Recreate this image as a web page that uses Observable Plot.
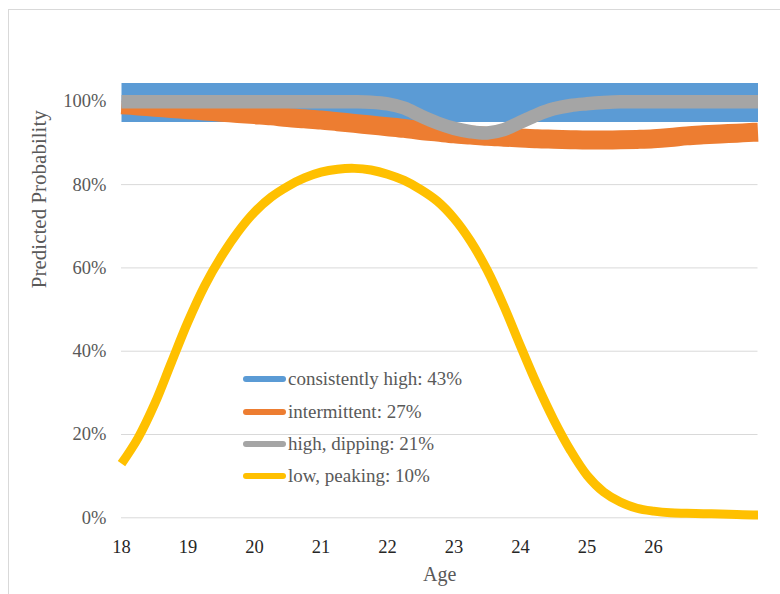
<!DOCTYPE html>
<html>
<head>
<meta charset="utf-8">
<script src="https://cdn.jsdelivr.net/npm/d3@7"></script>
<script src="https://cdn.jsdelivr.net/npm/@observablehq/plot@0.6"></script>
<style>
  html, body { margin: 0; padding: 0; background: #fff; overflow: hidden; }
  #wrap { position: relative; width: 780px; height: 594px; }
  #border { position: absolute; left: 8px; top: 9px; width: 900px; height: 700px; border: 1.5px solid #d9d9d9; box-sizing: border-box; }
  #chart { position: absolute; left: 0; top: 0; }
  #chart svg, #chart svg text { font-family: "Liberation Serif", Tinos, "Times New Roman", Times, serif !important; }
  #legend { position: absolute; left: 243px; top: 363px; font-family: "Liberation Serif", Tinos, "Times New Roman", Times, serif; font-size: 19px; color: #595959; }
  .row { height: 32.4px; display: flex; align-items: center; white-space: nowrap; }
  .sw { width: 43px; height: 6px; border-radius: 3px; margin-right: 2px; }
</style>
</head>
<body>
<div id="wrap">
  <div id="border"></div>
  <div id="chart"></div>
  <div id="legend"></div>
</div>
<script>
const ages = [18, 18.25, 18.5, 18.75, 19, 19.25, 19.5, 19.75, 20, 20.25, 20.5, 20.75, 21, 21.25, 21.5, 21.75, 22, 22.25, 22.5, 22.75, 23, 23.25, 23.5, 23.75, 24, 24.25, 24.5, 24.75, 25, 25.25, 25.5, 25.75, 26, 26.25, 26.5, 26.75, 27, 27.25, 27.5, 27.57];

const seriesNames = ["consistently high: 43%", "intermittent: 27%", "high, dipping: 21%", "low, peaking: 10%"];
const seriesColors = ["#5b9bd5", "#ed7d31", "#a5a5a5", "#ffc000"];

const consistentlyHigh = [99.7, 99.7, 99.7, 99.7, 99.7, 99.7, 99.7, 99.7, 99.7, 99.7, 99.7, 99.7, 99.7, 99.7, 99.7, 99.7, 99.7, 99.7, 99.7, 99.7, 99.7, 99.7, 99.7, 99.7, 99.7, 99.7, 99.7, 99.7, 99.7, 99.7, 99.7, 99.7, 99.7, 99.7, 99.7, 99.7, 99.7, 99.7, 99.7, 99.7];
const intermittent = [99.2, 98.9, 98.6, 98.3, 98.0, 97.7, 97.4, 97.1, 96.8, 96.5, 96.1, 95.8, 95.5, 95.1, 94.7, 94.3, 93.9, 93.5, 93.0, 92.6, 92.2, 91.9, 91.6, 91.4, 91.2, 91.0, 90.9, 90.8, 90.7, 90.7, 90.75, 90.85, 91.0, 91.3, 91.7, 91.95, 92.15, 92.35, 92.55, 92.6];
const highDipping = [99.9, 99.9, 99.9, 99.9, 99.9, 99.9, 99.9, 99.9, 99.9, 99.9, 99.9, 99.9, 99.9, 99.9, 99.9, 99.8, 99.4, 98.4, 96.5, 94.8, 93.5, 92.7, 92.4, 93.2, 95.0, 96.8, 98.2, 99.0, 99.4, 99.7, 99.9, 99.9, 99.9, 99.9, 99.9, 99.9, 99.9, 99.9, 99.9, 99.9];
const lowPeaking = [13.0, 19.2, 27.4, 37.3, 47.1, 55.7, 62.7, 68.6, 73.4, 77.0, 79.6, 81.6, 83.0, 83.7, 83.9, 83.5, 82.5, 81.0, 78.8, 76.0, 71.9, 66.4, 59.4, 50.8, 41.2, 31.9, 23.5, 16.2, 10.2, 6.2, 3.8, 2.3, 1.6, 1.2, 1.1, 1.0, 0.9, 0.8, 0.7, 0.7];

const xTicks = [18, 19, 20, 21, 22, 23, 24, 25, 26];
const yTicks = [0, 20, 40, 60, 80, 100];

const seriesValues = [consistentlyHigh, intermittent, highDipping, lowPeaking];
const strokeWidths = [39, 19, 13.5, 9];

const font = '"Liberation Serif", Tinos, "Times New Roman", Times, serif';

const lineMarks = seriesValues.map((vals, i) =>
  Plot.line(ages.map((a, j) => ({age: a, value: vals[j]})), {
    x: "age", y: "value", stroke: seriesColors[i], strokeWidth: strokeWidths[i],
    curve: "catmull-rom", strokeLinecap: "butt", strokeLinejoin: "round"
  })
);

const chart = Plot.plot({
  width: 780,
  height: 594,
  marginLeft: 121,
  marginRight: 22.5,
  marginTop: 80,
  marginBottom: 76.7,
  style: {fontFamily: font, background: "transparent", overflow: "visible"},
  x: {domain: [18, 27.57]},
  y: {domain: [0, 105]},
  marks: [
    Plot.gridY(yTicks, {stroke: "#d9d9d9", strokeOpacity: 1, strokeWidth: 1}),
    Plot.axisY(yTicks, {tickSize: 0, tickPadding: 15, tickFormat: d => d + "%", fontSize: 18.5, fill: "#595959", label: null}),
    Plot.axisX(xTicks, {tickSize: 0, tickPadding: 22, tickFormat: d => String(d), fontSize: 18.5, fill: "#262626", label: null}),
    ...lineMarks,
    Plot.text(["Predicted Probability"], {frameAnchor: "left", dx: -82, dy: -11, rotate: -90, fontSize: 21, fill: "#595959"}),
    Plot.text(["Age"], {frameAnchor: "bottom", dy: 63, fontSize: 20, fill: "#595959"})
  ]
});
document.getElementById("chart").appendChild(chart);

const legend = document.getElementById("legend");
seriesNames.forEach((name, i) => {
  const row = document.createElement("div");
  row.className = "row";
  const sw = document.createElement("div");
  sw.className = "sw";
  sw.style.background = seriesColors[i];
  const t = document.createElement("span");
  t.textContent = name;
  row.appendChild(sw);
  row.appendChild(t);
  legend.appendChild(row);
});
</script>
</body>
</html>
